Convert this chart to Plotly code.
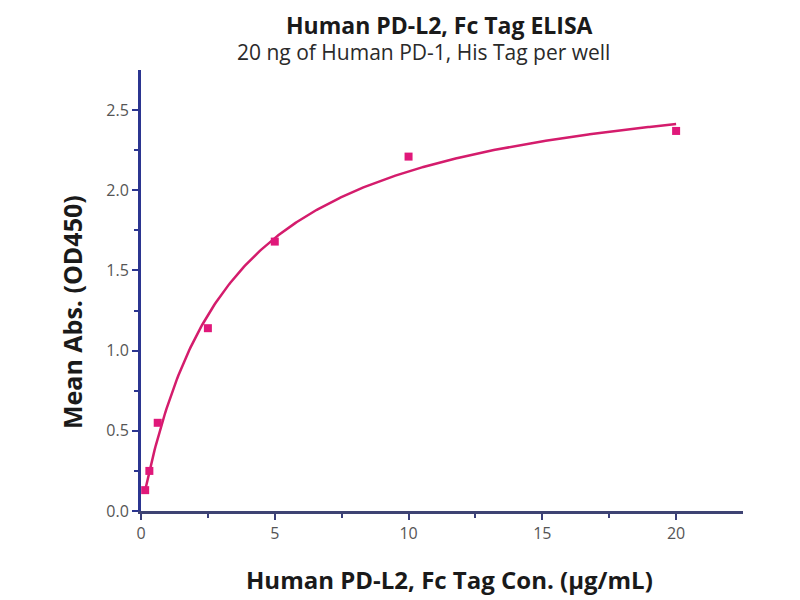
import numpy as np
import plotly.graph_objects as go

conc = [0.156, 0.3125, 0.625, 2.5, 5, 10, 20]
absorb = [0.13, 0.25, 0.55, 1.14, 1.68, 2.21, 2.37]

title = "<b>Human PD-L2, Fc Tag ELISA</b>"
subtitle = "20 ng of Human PD-1, His Tag per well"
x_title = "Human PD-L2, Fc Tag Con. (μg/mL)"
y_title = "Mean Abs. (OD450)"
x_ticks = [0, 5, 10, 15, 20]
y_ticks = [0, 0.5, 1.0, 1.5, 2.0, 2.5]
y_ticktext = ["0.0", "0.5", "1.0", "1.5", "2.0", "2.5"]

# one-site binding least-squares fit y = Bmax*x/(Kd+x) (grid on Kd, linear on Bmax)
x = np.array(conc, dtype=float)
y = np.array(absorb, dtype=float)
best = None
for kd in np.linspace(0.5, 10, 1901):
    s = x / (kd + x)
    bmax = float(np.dot(s, y) / np.dot(s, s))
    err = float(np.sum((bmax * s - y) ** 2))
    if best is None or err < best[0]:
        best = (err, kd, bmax)
_, kd, bmax = best
xf = np.linspace(min(conc), max(conc), 400)
yf = bmax * xf / (kd + xf)

line_color = "#D41C6C"
marker_color = "#E0187A"
fig = go.Figure()
fig.add_trace(go.Scatter(x=xf, y=yf, mode="lines", line=dict(color=line_color, width=2.5),
                         hoverinfo="skip"))
fig.add_trace(go.Scatter(x=conc, y=absorb, mode="markers",
                         marker=dict(symbol="square", size=8, color=marker_color)))

fam = "Open Sans, Liberation Sans, sans-serif"
L, T, R, B = 133, 62, 65, 97
W, H = 800, 600
pw, ph = W - L - R, H - T - B


def px_x(px):
    return (px - 8 - L) / pw


def px_y(py):
    return 1 + (T - (py - 8)) / ph


tick_font = dict(family=fam, size=16, color="#555555")
fig.update_layout(
    width=W, height=H, showlegend=False,
    paper_bgcolor="white", plot_bgcolor="white",
    margin=dict(l=L, r=R, t=T, b=B),
    annotations=[
        dict(text=title, x=px_x(439), y=px_y(8), xref="paper", yref="paper", showarrow=False,
             xanchor="center", yanchor="top", borderpad=0,
             font=dict(family=fam, size=23, color="#1a1a1a")),
        dict(text=subtitle, x=px_x(423), y=px_y(52), xref="paper", yref="paper", showarrow=False,
             xanchor="center", yanchor="middle",
             font=dict(family=fam, size=21, color="#2a2a2a")),
        dict(text="<b>" + x_title + "</b>", x=px_x(449), y=px_y(579), xref="paper", yref="paper",
             showarrow=False, xanchor="center", yanchor="middle",
             font=dict(family=fam, size=24, color="#1a1a1a")),
        dict(text="<b>" + y_title + "</b>", x=px_x(72), y=px_y(312), xref="paper", yref="paper",
             showarrow=False, xanchor="center", yanchor="middle", textangle=-90,
             font=dict(family=fam, size=25, color="#1a1a1a")),
    ],
)

fig.update_xaxes(range=[0, 22.5], tickvals=x_ticks, ticks="outside", ticklen=6,
                 tickwidth=2, tickcolor="#3A3F7A",
                 minor=dict(tickvals=[2.5, 7.5, 12.5, 17.5], ticks="outside", ticklen=4,
                            tickwidth=2, tickcolor="#3A3F7A"),
                 showline=True, linecolor="#3E4373", linewidth=3, showgrid=False, zeroline=False,
                 tickfont=tick_font)
fig.update_yaxes(range=[0, 2.75], tickvals=y_ticks, ticktext=y_ticktext,
                 ticks="outside", ticklen=6, tickwidth=2, tickcolor="#2B3590",
                 minor=dict(tickvals=[0.25, 0.75, 1.25, 1.75, 2.25], ticks="outside", ticklen=4,
                            tickwidth=2, tickcolor="#2B3590"),
                 showline=True, linecolor="#2B3590", linewidth=3, showgrid=False, zeroline=False,
                 tickfont=tick_font)

fig.write_html("out.html")
